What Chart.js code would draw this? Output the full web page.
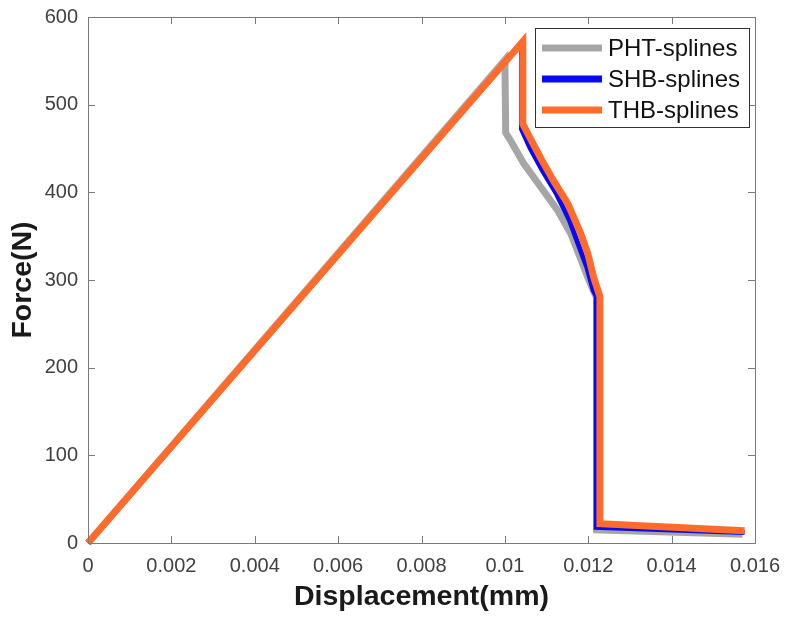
<!DOCTYPE html>
<html>
<head>
<meta charset="utf-8">
<script src="https://cdn.jsdelivr.net/npm/chart.js@4.4.1/dist/chart.umd.min.js"></script>
<style>
  html, body { margin: 0; padding: 0; background: #fff; }
  #wrap { width: 786px; height: 619px; }
</style>
</head>
<body>
<div id="wrap"><canvas id="forceChart" width="786" height="619"></canvas></div>
<script>
// force-displacement curves for the three spline spaces
const seriesNames = ['PHT-splines', 'SHB-splines', 'THB-splines'];

const phtX = [0, 0.01000, 0.01002, 0.01015, 0.01045, 0.01086, 0.01127, 0.01158, 0.01177, 0.01199, 0.01214, 0.01220, 0.01220, 0.01570];
const phtY = [0, 551, 468, 458, 433, 406, 379, 353, 330, 303, 286, 280, 15, 10];

const shbX = [0, 0.01040, 0.01040, 0.01060, 0.01090, 0.01124, 0.01155, 0.01175, 0.01197, 0.01212, 0.01219, 0.01219, 0.01575];
const shbY = [0, 571, 472, 451, 425, 398, 368, 342, 314, 288, 282, 18, 12];

const thbX = [0, 0.01043, 0.01043, 0.01055, 0.01086, 0.01117, 0.01151, 0.01182, 0.01199, 0.01213, 0.01228, 0.01228, 0.01575];
const thbY = [0, 572, 478, 467, 439, 413, 387, 353, 330, 303, 281, 22, 14];

const xTicks = [0, 0.002, 0.004, 0.006, 0.008, 0.01, 0.012, 0.014, 0.016];
const yTicks = [0, 100, 200, 300, 400, 500, 600];

const colors = ['#a6a6a6', '#0a0af0', '#ff6b2b'];
const widths = [7, 5, 7];

function toPoints(xs, ys) {
    return xs.map((x, i) => ({ x: x, y: ys[i] }));
}

const allPoints = [toPoints(phtX, phtY), toPoints(shbX, shbY), toPoints(thbX, thbY)];

// box around the axes, inward ticks and the legend
const framePlugin = {
    id: 'frame',
    afterDatasetsDraw(chart) {
        const ctx = chart.ctx;
        const a = chart.chartArea;
        const xs = chart.scales.x;
        const ys = chart.scales.y;
        const tickLen = 7;

        ctx.save();
        ctx.strokeStyle = '#7a7a7a';
        ctx.lineWidth = 1;
        ctx.strokeRect(a.left + 0.5, a.top + 0.5, a.right - a.left, a.bottom - a.top);

        ctx.beginPath();
        xTicks.forEach(v => {
            const px = Math.round(xs.getPixelForValue(v)) + 0.5;
            ctx.moveTo(px, a.bottom);
            ctx.lineTo(px, a.bottom - tickLen);
            ctx.moveTo(px, a.top);
            ctx.lineTo(px, a.top + tickLen);
        });
        yTicks.forEach(v => {
            const py = Math.round(ys.getPixelForValue(v)) + 0.5;
            ctx.moveTo(a.left, py);
            ctx.lineTo(a.left + tickLen, py);
            ctx.moveTo(a.right, py);
            ctx.lineTo(a.right - tickLen, py);
        });
        ctx.stroke();

        // legend
        const boxR = a.right - 6;
        const boxL = boxR - 214;
        const boxT = a.top + 11;
        const boxH = 99;
        ctx.fillStyle = '#fff';
        ctx.fillRect(boxL, boxT, boxR - boxL, boxH);
        ctx.strokeStyle = '#333';
        ctx.strokeRect(boxL + 0.5, boxT + 0.5, boxR - boxL, boxH);

        ctx.font = '24px "Liberation Sans", Arial, sans-serif';
        ctx.textBaseline = 'middle';
        ctx.textAlign = 'left';
        seriesNames.forEach((name, i) => {
            const cy = boxT + 20 + i * 31;
            ctx.strokeStyle = colors[i];
            ctx.lineWidth = 7;
            ctx.beginPath();
            ctx.moveTo(boxL + 7, cy);
            ctx.lineTo(boxL + 67, cy);
            ctx.stroke();
            ctx.fillStyle = '#111';
            ctx.fillText(name, boxL + 73, cy + 1);
        });
        ctx.restore();
    }
};

const ctx = document.getElementById('forceChart').getContext('2d');

new Chart(ctx, {
    type: 'scatter',
    data: {
        datasets: seriesNames.map((name, i) => ({
            label: name,
            data: allPoints[i],
            showLine: true,
            borderColor: colors[i],
            backgroundColor: colors[i],
            borderWidth: widths[i],
            borderJoinStyle: 'miter',
            pointRadius: 0,
            tension: 0,
            clip: false,
            order: 3 - i
        }))
    },
    options: {
        responsive: false,
        animation: false,
        layout: { padding: { top: 17, right: 31, bottom: 0, left: 0 } },
        plugins: {
            legend: { display: false },
            tooltip: { enabled: false }
        },
        scales: {
            x: {
                type: 'linear',
                min: 0,
                max: 0.016,
                afterBuildTicks: s => { s.ticks = xTicks.map(v => ({ value: v })); },
                afterFit: s => {
                    s.height = 76;
                    s.paddingLeft = 0;
                    s.paddingRight = 0;
                },
                grid: { display: false, drawTicks: false },
                border: { display: false },
                ticks: {
                    padding: 11,
                    color: '#404040',
                    font: { family: '"Liberation Sans", Arial, sans-serif', size: 20 },
                    maxRotation: 0,
                    callback: v => String(Number(v.toFixed(3)))
                },
                title: {
                    display: true,
                    text: 'Displacement(mm)',
                    color: '#1a1a1a',
                    font: { family: '"Liberation Sans", Arial, sans-serif', size: 28.5, weight: 'bold' },
                    padding: { top: 0, bottom: 5 }
                }
            },
            y: {
                min: 0,
                max: 600,
                afterBuildTicks: s => { s.ticks = yTicks.map(v => ({ value: v })); },
                afterFit: s => {
                    s.width = 88;
                    s.paddingTop = 0;
                    s.paddingBottom = 0;
                },
                grid: { display: false, drawTicks: false },
                border: { display: false },
                ticks: {
                    padding: 10,
                    color: '#404040',
                    font: { family: '"Liberation Sans", Arial, sans-serif', size: 20 }
                },
                title: {
                    display: true,
                    text: 'Force(N)',
                    color: '#1a1a1a',
                    font: { family: '"Liberation Sans", Arial, sans-serif', size: 28.5, weight: 'bold' },
                    padding: { top: 6, bottom: 0 }
                }
            }
        }
    },
    plugins: [framePlugin]
});
</script>
</body>
</html>
